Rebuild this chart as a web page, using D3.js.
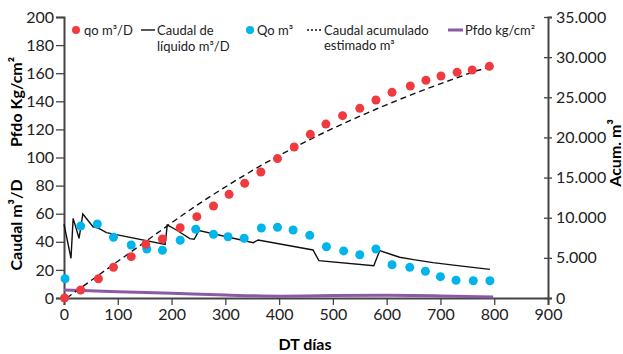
<!DOCTYPE html>
<html>
<head>
<meta charset="utf-8">
<script src="https://cdn.jsdelivr.net/npm/d3@7"></script>
<style>
  body { margin: 0; background: #fff; }
  svg { font-family: Lato, "Open Sans", sans-serif; }
</style>
</head>
<body>
<div id="chart"></div>
<script>
// qo (plotted against left scale)
var qoDays = [1,31,64,92,125,152,183,216,247,278,307,336,366,397,428,458,487,518,550,580,610,644,673,701,731,759,791];
var qoVals = [0,5.7,13.7,21.8,29.4,38.2,42,50,57.9,65.5,73.8,81.6,89.7,99.2,107.5,116.5,123.8,129.8,135,140.9,146.4,150.9,155,158,160.6,162.3,164.9];

// Qo m3
var QoDays = [2,31,62,92,125,154,183,216,245,278,305,335,367,397,426,457,488,520,550,580,610,643,672,700,729,761,792];
var QoVals = [13.7,51.2,52.7,43.2,37.7,34.9,34,41.1,48.9,45.3,43.6,42.5,49.8,50.3,48.4,44.6,36.5,33.5,30.8,34.9,23.7,21.8,19,15.2,12.6,12.3,12.3];

// caudal de liquido m3/D
var liqDays = [0,13,17,28,35,54,64,79,188,192,209,234,242,251,352,361,463,474,576,587,610,624,650,686,740,792];
var liqVals = [52.5,28.3,56.7,42.5,59.8,50.7,49.7,46.5,38.2,52,48.4,42.3,41.8,48,39.4,41.3,34.2,26.6,23,33.7,30.8,29,27.3,25.2,22.7,20.4];

// caudal acumulado estimado m3 (right scale)
var acumDays = [5,31,62,92,123,153,184,215,245,276,306,337,368,397,427,458,488,519,549,580,610,641,672,702,732,762,792];
var acumVals = [0,1250,2740,4180,5660,7100,8590,10080,11460,12820,14080,15350,16560,17630,18710,19760,20750,21710,22610,23510,24350,25190,25990,26740,27460,28180,28750];

// Pfdo kg/cm2
var pfDays = [0,100,200,300,400,450,500,600,700,798];
var pfVals = [5.7,4.5,3.3,2.1,1.3,1.4,1.7,1.9,1.5,0.8];

var xTicks = d3.range(0, 901, 100);
var yTicks = d3.range(0, 201, 20);
var y2Ticks = d3.range(0, 35001, 5000);

var red = "#ef3b3f";
var blue = "#00b4ec";
var purple = "#8c59a6";

var svg = d3.select("#chart").append("svg")
    .attr("width", 623)
    .attr("height", 354);

var x = d3.scaleLinear().domain([0, 900]).range([64, 548]);
var y = d3.scaleLinear().domain([0, 200]).range([298, 17]);
var y2 = d3.scaleLinear().domain([0, 35000]).range([298, 17]);

var fmt = function(d){ return d3.format(",")(d).replace(/,/g, "."); };

// axes
var gx = svg.append("g")
    .attr("transform", "translate(0,298)")
    .call(d3.axisBottom(x).tickValues(xTicks).tickSize(7).tickPadding(4));
var gy = svg.append("g")
    .attr("transform", "translate(64,0)")
    .call(d3.axisLeft(y).tickValues(yTicks).tickSize(8).tickPadding(2));
var gy2 = svg.append("g")
    .attr("transform", "translate(548,0)")
    .call(d3.axisRight(y2).tickValues(y2Ticks).tickFormat(fmt).tickSize(4).tickPadding(4));
gy2.selectAll(".tick line").attr("x1", -4);

[gx, gy, gy2].forEach(function(g){
  g.select(".domain").attr("stroke", "#444").attr("stroke-width", 2);
  g.selectAll(".tick line").attr("stroke", "#444").attr("stroke-width", 1.3);
  g.selectAll(".tick text").attr("fill", "#222")
    .style("font-family", "Lato, sans-serif").style("font-size", "16px");
});

// pfdo line
svg.append("path")
    .datum(d3.zip(pfDays, pfVals))
    .attr("fill", "none")
    .attr("stroke", purple)
    .attr("stroke-width", 3)
    .attr("d", d3.line().curve(d3.curveMonotoneX).x(function(d){return x(d[0]);}).y(function(d){return y(d[1]);}));

// caudal acumulado
svg.append("path")
    .datum(d3.zip(acumDays, acumVals))
    .attr("fill", "none")
    .attr("stroke", "#111")
    .attr("stroke-width", 1.4)
    .attr("stroke-dasharray", "6,4")
    .attr("d", d3.line().curve(d3.curveMonotoneX).x(function(d){return x(d[0]);}).y(function(d){return y2(d[1]);}));

// caudal de liquido
svg.append("path")
    .datum(d3.zip(liqDays, liqVals))
    .attr("fill", "none")
    .attr("stroke", "#111")
    .attr("stroke-width", 1.4)
    .attr("d", d3.line().x(function(d){return x(d[0]);}).y(function(d){return y(d[1]);}));

// dots
svg.append("g").selectAll("circle")
    .data(d3.zip(QoDays, QoVals))
    .enter().append("circle")
    .attr("cx", function(d){return x(d[0]);})
    .attr("cy", function(d){return y(d[1]);})
    .attr("r", 4.5)
    .attr("fill", blue);

svg.append("g").selectAll("circle")
    .data(d3.zip(qoDays, qoVals))
    .enter().append("circle")
    .attr("cx", function(d){return x(d[0]);})
    .attr("cy", function(d){return y(d[1]);})
    .attr("r", 4.5)
    .attr("fill", red);

// axis titles
svg.append("text")
    .attr("x", 305).attr("y", 350)
    .attr("text-anchor", "middle")
    .style("font-weight", "bold").style("font-size", "16px")
    .text("DT días");

svg.append("text")
    .attr("transform", "translate(22,225) rotate(-90)")
    .attr("text-anchor", "middle")
    .style("font-weight", "bold").style("font-size", "16px")
    .text("Caudal m³/D");

svg.append("text")
    .attr("transform", "translate(22,102) rotate(-90)")
    .attr("text-anchor", "middle")
    .style("font-weight", "bold").style("font-size", "16px")
    .text("Pfdo Kg/cm²");

svg.append("text")
    .attr("transform", "translate(621,153) rotate(-90)")
    .attr("text-anchor", "middle")
    .style("font-weight", "bold").style("font-size", "16px")
    .text("Acum. m³");

// legend
var leg = svg.append("g").style("font-size", "13px").attr("fill", "#222");

leg.append("circle").attr("cx", 76).attr("cy", 30).attr("r", 4).attr("fill", red);
leg.append("text").attr("x", 84).attr("y", 35).text("qo m³/D");

leg.append("line").attr("x1", 141).attr("x2", 155).attr("y1", 30).attr("y2", 30)
    .attr("stroke", "#111").attr("stroke-width", 1.4);
leg.append("text").attr("x", 157).attr("y", 35).text("Caudal de");
leg.append("text").attr("x", 157).attr("y", 51).text("líquido m³/D");

leg.append("circle").attr("cx", 250).attr("cy", 30).attr("r", 4).attr("fill", blue);
leg.append("text").attr("x", 257).attr("y", 35).text("Qo m³");

leg.append("line").attr("x1", 307).attr("x2", 321).attr("y1", 30).attr("y2", 30)
    .attr("stroke", "#111").attr("stroke-width", 1.4).attr("stroke-dasharray", "2,2");
leg.append("text").attr("x", 324).attr("y", 35).text("Caudal acumulado");
leg.append("text").attr("x", 324).attr("y", 50).text("estimado m³");

leg.append("line").attr("x1", 448).attr("x2", 463).attr("y1", 30).attr("y2", 30)
    .attr("stroke", purple).attr("stroke-width", 3);
leg.append("text").attr("x", 465).attr("y", 35).text("Pfdo kg/cm²");
</script>
</body>
</html>
